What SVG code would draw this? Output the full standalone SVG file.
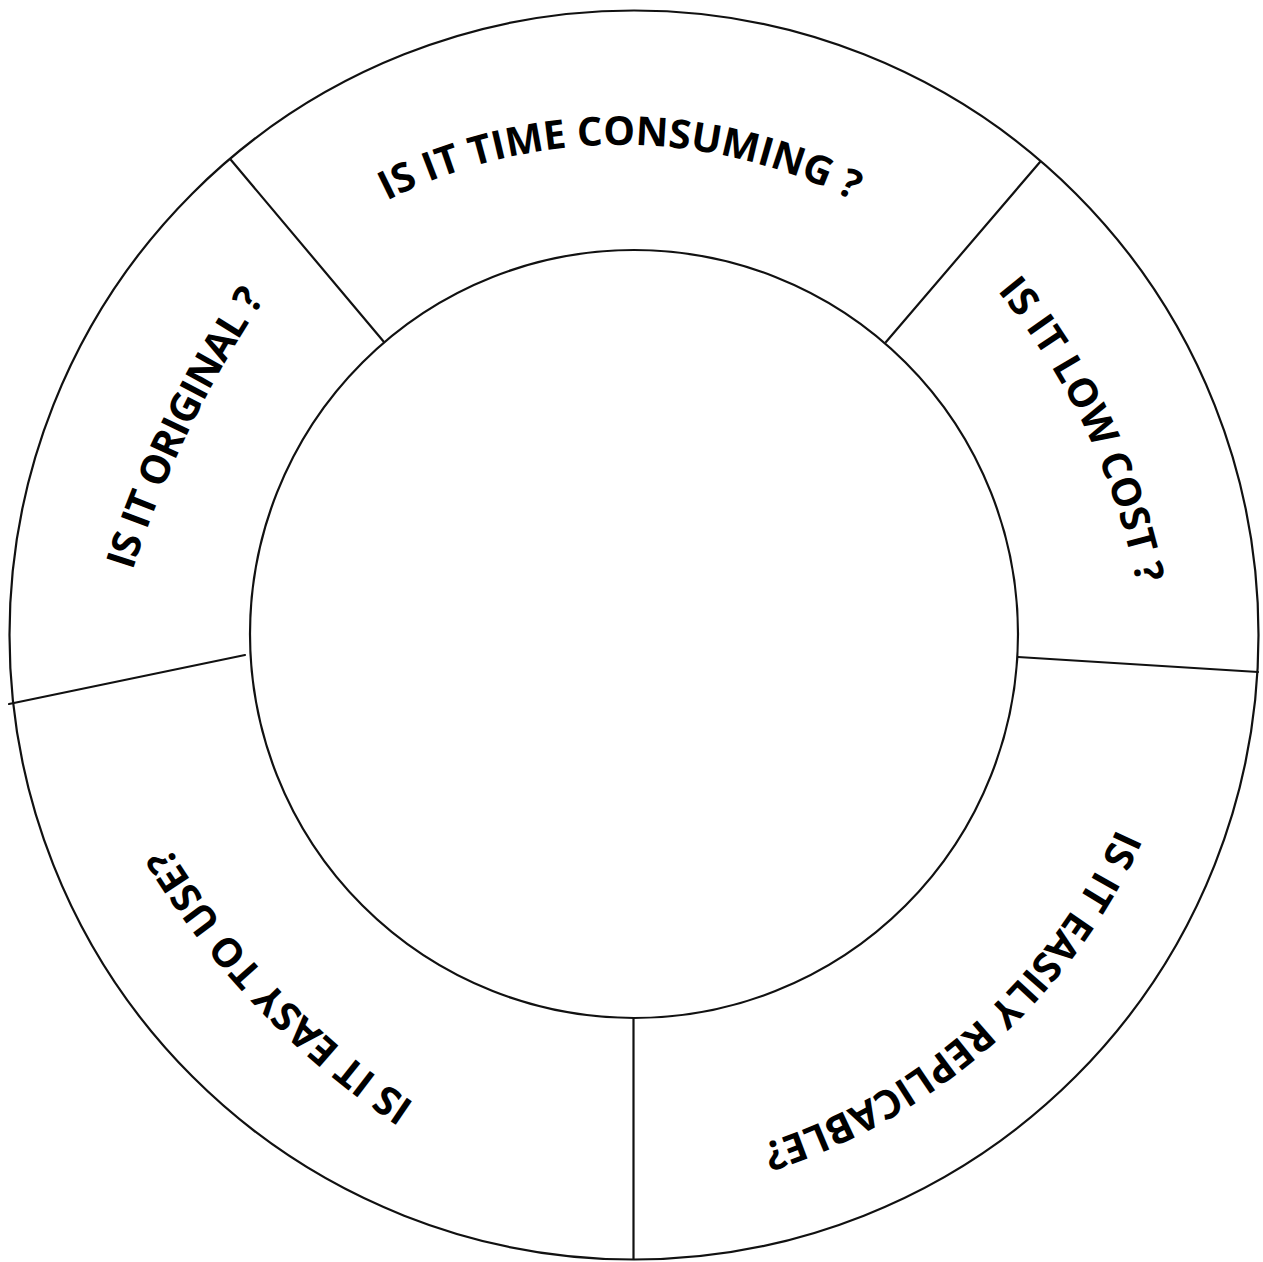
<svg xmlns="http://www.w3.org/2000/svg" width="1263" height="1262" viewBox="0 0 1263 1262">
  <style>
    .ring { fill: none; stroke: #111; stroke-width: 2.2; }
    .divider { fill: none; stroke: #111; stroke-width: 2.2; stroke-linecap: round; }
    .label { font-family: "Open Sans", "Noto Sans", "Liberation Sans", sans-serif; font-weight: 700; font-size: 40px; fill: #000; }
  </style>
  <defs>
    <!-- baseline arcs for the curved segment labels (all run clockwise) -->
    <path id="arc-time" d="M255.8,295.8 A515,515 0 0 1 984.2,295.8"/>
    <path id="arc-cost" d="M705.5,86.5 A668,668 0 0 1 1111.5,939.5"/>
    <path id="arc-original" d="M79.3,885.1 A1096,1096 0 0 1 489.0,54.2"/>
    <path id="arc-replicable" d="M1168.8,570.2 A585,585 0 0 1 499.1,1165.8"/>
    <path id="arc-easy" d="M710.9,1226.1 A822,822 0 0 1 59.4,544.4"/>
  </defs>

  <rect width="1263" height="1262" fill="#fff"/>

  <g id="rings">
    <circle class="ring" cx="634" cy="635" r="624.5"/>
    <circle class="ring" cx="634" cy="634" r="384"/>
  </g>

  <g id="connectors">
    <line class="divider" x1="231" y1="160" x2="384" y2="342"/>
    <line class="divider" x1="1040" y1="162" x2="886" y2="342"/>
    <line class="divider" x1="1018" y1="657" x2="1258" y2="672"/>
    <line class="divider" x1="633.5" y1="1018" x2="633.5" y2="1259"/>
    <line class="divider" x1="245" y1="655" x2="9" y2="704"/>
  </g>

  <g id="segment-time">
    <text class="label"><textPath href="#arc-time" startOffset="50%" text-anchor="middle">IS IT TIME CONSUMING ?</textPath></text>
  </g>
  <g id="segment-cost">
    <text class="label"><textPath href="#arc-cost" startOffset="50%" text-anchor="middle">IS IT LOW COST ?</textPath></text>
  </g>
  <g id="segment-replicable">
    <text class="label"><textPath href="#arc-replicable" startOffset="50%" text-anchor="middle">IS IT EASILY REPLICABLE?</textPath></text>
  </g>
  <g id="segment-easy">
    <text class="label"><textPath href="#arc-easy" startOffset="50%" text-anchor="middle">IS IT EASY TO USE?</textPath></text>
  </g>
  <g id="segment-original">
    <text class="label" letter-spacing="-1"><textPath href="#arc-original" startOffset="320">IS IT ORIGINAL ?</textPath></text>
  </g>
</svg>
